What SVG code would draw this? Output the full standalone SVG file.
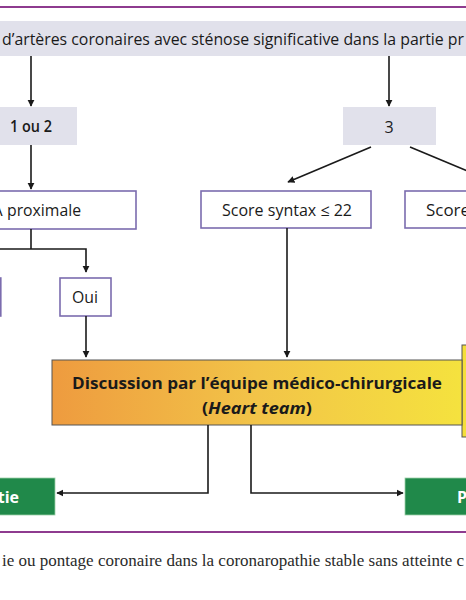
<svg xmlns="http://www.w3.org/2000/svg" width="466" height="600" viewBox="0 0 466 600">
<defs>
<style>
.t{font-family:"Open Sans","Liberation Sans",sans-serif;fill:#1a1a1a;font-size:16px}
.b{font-weight:bold}
.gray{fill:#e1e1eb;stroke:none}
.wbox{fill:#ffffff;stroke:#7b6cae;stroke-width:1.6}
.green{fill:#20894a;stroke:#9ccfa9;stroke-width:0.8}
.wt{fill:#ffffff}
.conn path{fill:none;stroke:#1a1a1a;stroke-width:1.6}
.rule{stroke:#8e3b8f;stroke-width:2}
.cap{font-family:"Liberation Serif",serif;font-size:17.5px;fill:#2a2a2a}
</style>
<marker id="ah" viewBox="0 0 10 10" refX="9" refY="5" markerWidth="4.5" markerHeight="4.5" orient="auto">
<path d="M0,0 L10,5 L0,10 Z" fill="#1a1a1a"/>
</marker>
<linearGradient id="og" x1="0" y1="0" x2="1" y2="0">
<stop offset="0" stop-color="#ee9b3f"/>
<stop offset="0.5" stop-color="#f2c448"/>
<stop offset="1" stop-color="#f5e23e"/>
</linearGradient>
</defs>
<rect width="466" height="600" fill="#ffffff"/>
<line class="rule" x1="0" y1="7" x2="466" y2="7"/>

<g id="top">
<rect class="gray" x="-5" y="21" width="476" height="35"/>
<text class="t" x="2" y="45" font-size="17" textLength="462" lengthAdjust="spacingAndGlyphs">d’artères coronaires avec sténose significative dans la partie pr</text>
</g>

<g id="n12">
<rect class="gray" x="-5" y="107" width="82" height="38"/>
<text class="t" x="10" y="132" font-weight="600" textLength="42" lengthAdjust="spacingAndGlyphs">1 ou 2</text>
</g>

<g id="n3">
<rect class="gray" x="343" y="107" width="93" height="38"/>
<text class="t" x="389" y="133" text-anchor="middle">3</text>
</g>

<g id="prox">
<rect class="wbox" x="-5" y="191" width="141" height="38"/>
<text class="t" x="2.5" y="216" text-anchor="end">A</text>
<text class="t" x="7" y="216" textLength="74" lengthAdjust="spacingAndGlyphs">proximale</text>
</g>

<g id="syn22">
<rect class="wbox" x="201" y="191" width="170" height="37"/>
<text class="t" x="222" y="216" textLength="130" lengthAdjust="spacingAndGlyphs">Score syntax ≤ 22</text>
</g>

<g id="synhigh">
<rect class="wbox" x="405" y="191" width="70" height="37"/>
<text class="t" x="426" y="216" textLength="44" lengthAdjust="spacingAndGlyphs">Score</text>
</g>

<g id="non">
<rect class="wbox" x="-20" y="278" width="20.8" height="38"/>
</g>

<g id="oui">
<rect class="wbox" x="60" y="278" width="51" height="38"/>
<text class="t" x="72" y="303" textLength="26" lengthAdjust="spacingAndGlyphs">Oui</text>
</g>

<g id="heart">
<rect x="462" y="345" width="12" height="92" fill="#f4df3a" stroke="#555" stroke-width="1"/>
<rect x="52" y="360" width="410" height="65" fill="url(#og)" stroke="#555" stroke-width="1"/>
<text class="t b" x="72" y="389" font-size="18" textLength="370" lengthAdjust="spacingAndGlyphs">Discussion par l’équipe médico-chirurgicale</text>
<text class="t b" x="202" y="414" font-size="18" textLength="110" lengthAdjust="spacingAndGlyphs">(<tspan font-style="italic">Heart team</tspan>)</text>
</g>

<g id="angio">
<rect class="green" x="-5" y="478" width="60" height="37"/>
<text class="t b wt" x="19" y="503" text-anchor="end" font-size="18">tie</text>
</g>

<g id="pontage">
<rect class="green" x="405" y="478" width="70" height="37"/>
<text class="t b wt" x="457" y="503" font-size="18">P</text>
</g>

<g id="connectors" class="conn">
<path d="M31,56 V106" marker-end="url(#ah)"/>
<path d="M389,56 V106" marker-end="url(#ah)"/>
<path d="M31,145 V189" marker-end="url(#ah)"/>
<path d="M371,147 L288,182" marker-end="url(#ah)"/>
<path d="M410,147 L494,182"/>
<path d="M31,229 V249"/>
<path d="M-10,249 H86 V272" marker-end="url(#ah)"/>
<path d="M86,316 V357" marker-end="url(#ah)"/>
<path d="M287,228 V357" marker-end="url(#ah)"/>
<path d="M208,425 V493 H57" marker-end="url(#ah)"/>
<path d="M251,425 V493 H403" marker-end="url(#ah)"/>
</g>

<line class="rule" x1="0" y1="532" x2="466" y2="532"/>
<text class="cap" x="2" y="566" textLength="462" lengthAdjust="spacingAndGlyphs">ie ou pontage coronaire dans la coronaropathie stable sans atteinte c</text>
</svg>
